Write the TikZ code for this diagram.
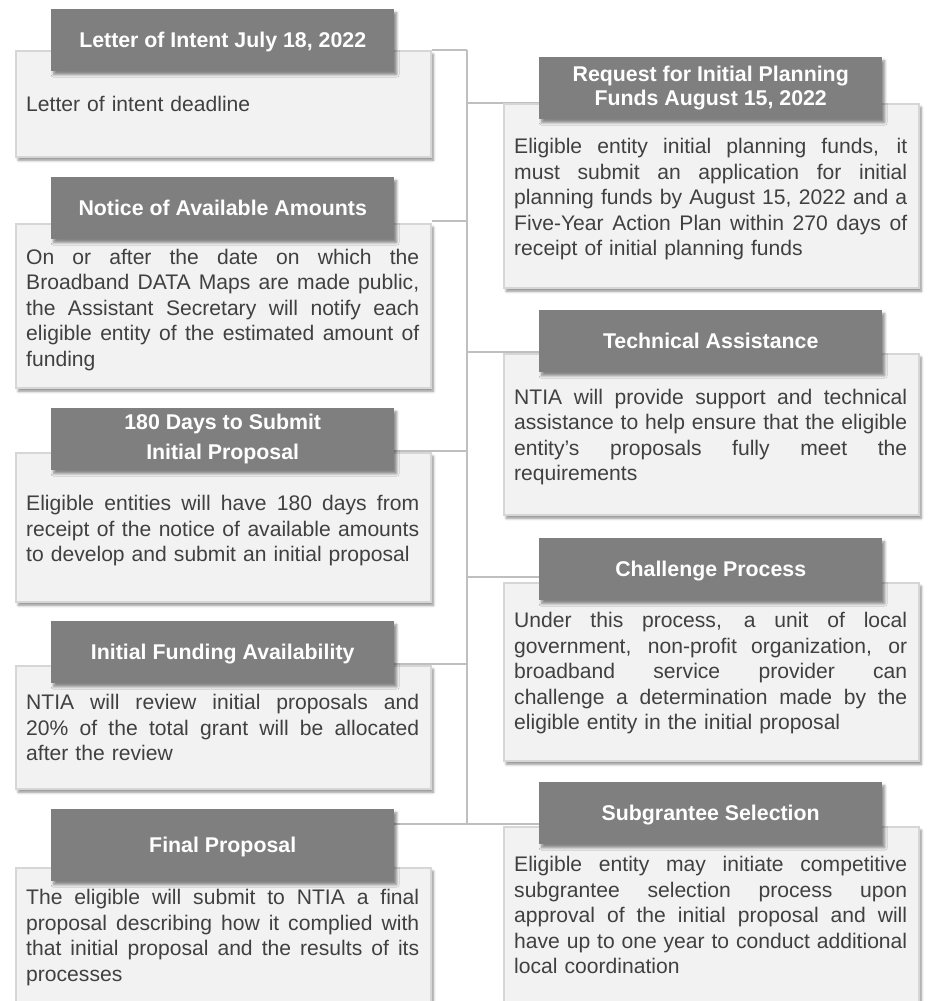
\documentclass[tikz,border=0pt]{standalone}
\usepackage{fontspec}
\setmainfont{Liberation Sans}
\usetikzlibrary{shadows.blur}
\definecolor{hdrgray}{HTML}{7F7F7F}
\definecolor{bodyfill}{HTML}{F2F2F2}
\definecolor{bodyline}{HTML}{D6D6D6}
\definecolor{connline}{HTML}{BFBFBF}
\definecolor{txtgray}{HTML}{404040}
\newcommand\jline[1]{\makebox[393pt][s]{\spaceskip=\fontdimen2\font plus 1fil\relax\xspaceskip=\spaceskip #1}\\}
\pgfdeclarelayer{back}
\pgfsetlayers{back,main}
\begin{document}
\begin{tikzpicture}[x=1pt,y=-1pt,
  softshadow/.style={blur shadow={shadow xshift=2.5pt, shadow yshift=-3.5pt, shadow blur radius=2.5pt, shadow opacity=45}},
  bodybox/.style={draw=bodyline, line width=1.5pt, fill=bodyfill, anchor=north west, inner sep=0pt, minimum width=415pt, softshadow},
  hdr/.style={fill=hdrgray, anchor=north west, inner sep=0pt, minimum width=343pt, minimum height=62pt, text=white, font=\fontsize{21.33}{25.5}\selectfont\bfseries, align=center, softshadow},
  hdrone/.style={hdr, text height=15.3pt, text depth=0pt},
  bodytext/.style={anchor=base west, inner sep=0pt, text width=393pt, align=left, text=txtgray, font=\fontsize{21.1}{25.5}\selectfont},
  conn/.style={draw=connline, line width=2pt}]
\useasboundingbox (0,0) rectangle (932,1001);
\clip (0,0) rectangle (932,1001);

% ---------- left column ----------
\node[bodybox, minimum height=106pt] (b1) at (15,50) {};
\node[hdrone] (h1) at (51,9) {Letter of Intent July 18, 2022};
\node[bodytext] (t1) at (26,111.5) {Letter of intent deadline};

\node[bodybox, minimum height=164pt] (b2) at (15,223) {};
\node[hdrone] (h2) at (51,177) {Notice of Available Amounts};
\node[bodytext] (t2) at (26,264.2) {\jline{On or after the date on which the}\jline{Broadband DATA Maps are made public,}\jline{the Assistant Secretary will notify each}\jline{eligible entity of the estimated amount of}funding};

\node[bodybox, minimum height=149pt] (b3) at (15,452) {};
\node[hdr] (h3) at (51,408) {180 Days to Submit\\[4.5pt]Initial Proposal};
\node[bodytext] (t3) at (26,510.5) {\jline{Eligible entities will have 180 days from}\jline{receipt of the notice of available amounts}to develop and submit an initial proposal};

\node[bodybox, minimum height=123pt] (b4) at (15,665) {};
\node[hdrone] (h4) at (51,621) {Initial Funding Availability};
\node[bodytext] (t4) at (26,709.5) {\jline{NTIA will review initial proposals and}\jline{20\% of the total grant will be allocated}after the review};

\node[bodybox, minimum height=160pt] (b5) at (15,867) {};
\node[hdrone, minimum height=72pt] (h5) at (51,809) {Final Proposal};
\node[bodytext] (t5) at (26,904.5) {\jline{The eligible will submit to NTIA a final}\jline{proposal describing how it complied with}\jline{that initial proposal and the results of its}processes};

% ---------- right column ----------
\node[bodybox, minimum height=184pt] (r1) at (503,103) {};
\node[hdr] (g1) at (539,57) {Request for Initial Planning\\[-1.1pt]Funds August 15, 2022};
\node[bodytext] (u1) at (514,153.5) {\jline{Eligible entity initial planning funds, it}\jline{must submit an application for initial}\jline{planning funds by August 15, 2022 and a}\jline{Five-Year Action Plan within 270 days of}receipt of initial planning funds};

\node[bodybox, minimum height=161pt] (r2) at (503,353) {};
\node[hdrone] (g2) at (539,310) {Technical Assistance};
\node[bodytext] (u2) at (514,404) {\jline{NTIA will provide support and technical}\jline{assistance to help ensure that the eligible}\jline{entity’s proposals fully meet the}requirements};

\node[bodybox, minimum height=178pt] (r3) at (503,582) {};
\node[hdrone] (g3) at (539,538) {Challenge Process};
\node[bodytext] (u3) at (514,627.5) {\jline{Under this process, a unit of local}\jline{government, non-profit organization, or}\jline{broadband service provider can}\jline{challenge a determination made by the}eligible entity in the initial proposal};

\node[bodybox, minimum height=190pt] (r4) at (503,826) {};
\node[hdrone] (g4) at (539,782) {Subgrantee Selection};
\node[bodytext] (u4) at (514,871.5) {\jline{Eligible entity may initiate competitive}\jline{subgrantee selection process upon}\jline{approval of the initial proposal and will}\jline{have up to one year to conduct additional}local coordination};

% ---------- spine and connectors ----------
\coordinate (sp1) at (466.5,50);
\coordinate (sp2) at (466.5,221);
\coordinate (sp3) at (466.5,451);
\coordinate (sp4) at (466.5,664);
\coordinate (sp5) at (466.5,824);
\coordinate (sq1) at (466.5,103);
\coordinate (sq2) at (466.5,352);
\coordinate (sq3) at (466.5,577);
\begin{pgfonlayer}{back}
\draw[conn] (sp1) -- (sp5);
\draw[conn] (b1.north east) -- (sp1);
\draw[conn] (b2.north east |- sp2) -- (sp2);
\draw[conn] (h3.east |- sp3) -- (sp3);
\draw[conn] (h4.east |- sp4) -- (sp4);
\draw[conn] (h5.east |- sp5) -- (sp5);
\draw[conn] (sq1) -- (g1.west |- sq1);
\draw[conn] (sq2) -- (g2.west |- sq2);
\draw[conn] (sq3) -- (g3.west |- sq3);
\draw[conn] (sp5) -- (g4.west |- sp5);
\end{pgfonlayer}
\end{tikzpicture}
\end{document}
